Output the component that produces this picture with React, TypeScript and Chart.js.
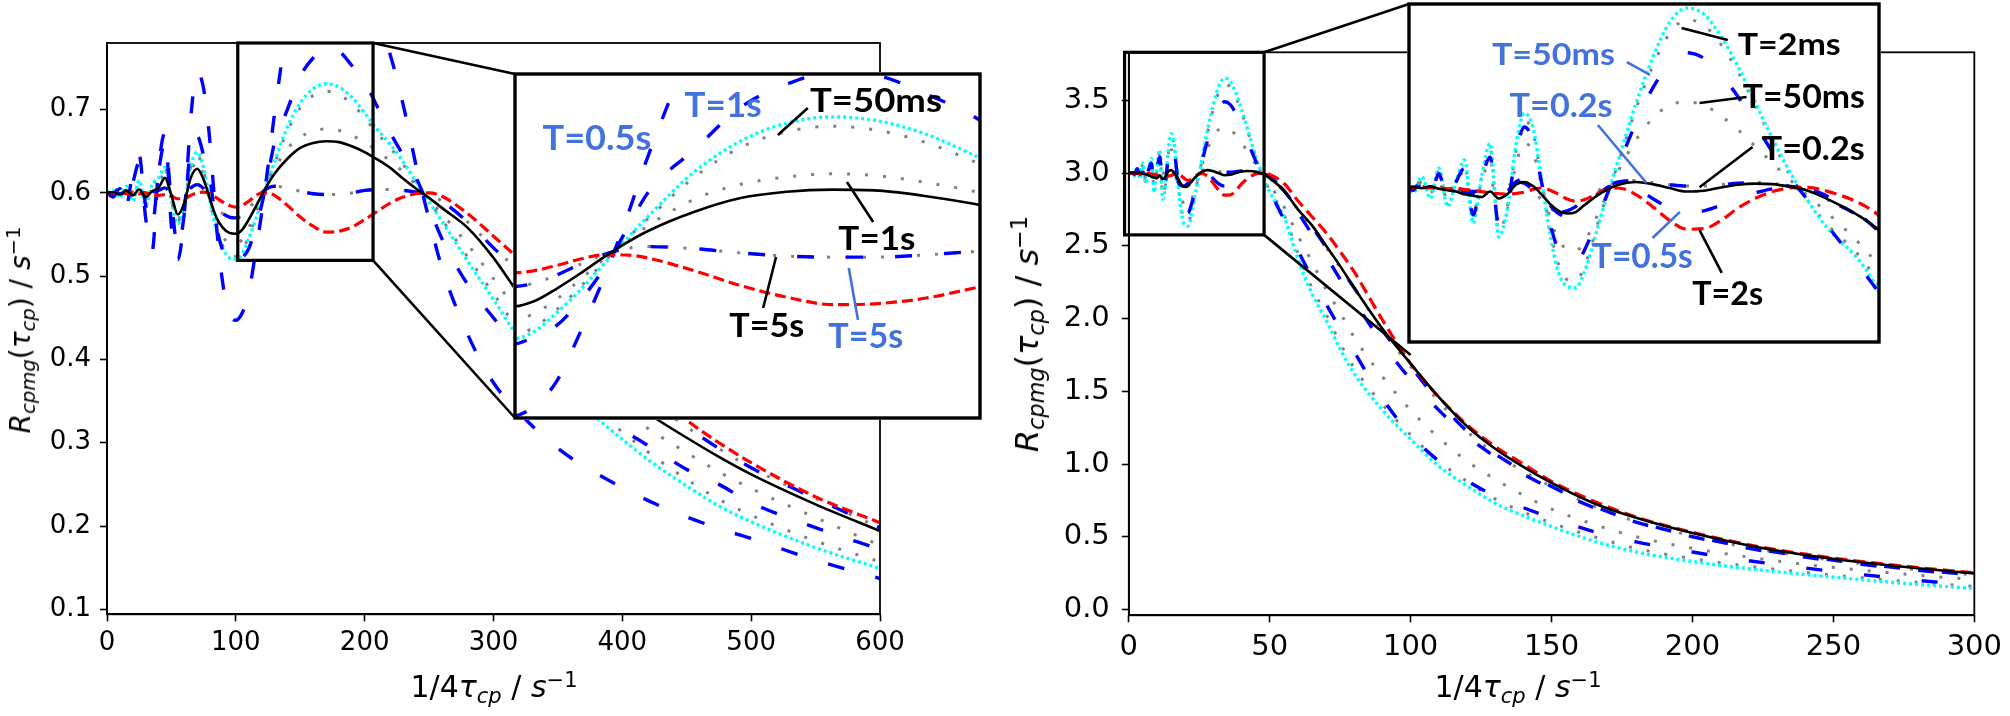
import React, { useEffect, useRef } from 'react';
import { Chart, registerables } from 'chart.js';
Chart.register(...registerables);

// ---------------- LEFT PANEL DATA ----------------
const X_L = [0,5,10,15,20,25,30,35,40,45,50,55,60,65,70,75,80,85,90,95,100,105,110,115,120,125,130,
  140,150,160,170,180,190,200,210,220,230,240,250,260,
  280,300,320,340,360,380,400, 425,450,475,500, 550,600];

const L_RED = [0.600,0.600,0.601,0.599,0.601,0.599,0.600,0.598,0.597,0.598,0.596,0.593,0.593,0.597,0.600,0.601,0.599,0.594,0.589,0.585,0.583,0.585,0.590,0.596,0.600,0.600,0.597,
  0.585,0.571,0.560,0.553,0.554,0.559,0.568,0.578,0.588,0.595,0.599,0.600,0.596,
  0.575,0.548,0.520,0.487,0.455,0.425,0.396, 0.360,0.327,0.300,0.276, 0.235,0.204];
const L_BLACK = [0.600,0.601,0.598,0.603,0.597,0.604,0.595,0.602,0.606,0.618,0.597,0.574,0.588,0.618,0.629,0.616,0.592,0.570,0.558,0.552,0.551,0.556,0.568,0.582,0.597,0.611,0.623,
  0.641,0.654,0.660,0.662,0.661,0.656,0.649,0.640,0.630,0.617,0.605,0.594,0.582,
  0.558,0.522,0.478,0.440,0.408,0.380,0.357, 0.330,0.306,0.283,0.262, 0.226,0.194];
const L_CYAN = [0.600,0.603,0.594,0.608,0.590,0.615,0.585,0.610,0.618,0.631,0.590,0.563,0.585,0.632,0.649,0.630,0.590,0.555,0.533,0.522,0.520,0.527,0.545,0.566,0.590,0.614,0.637,
  0.679,0.708,0.725,0.731,0.727,0.715,0.696,0.676,0.658,0.637,0.613,0.589,0.566,
  0.518,0.472,0.425,0.390,0.357,0.330,0.304, 0.274,0.248,0.224,0.205, 0.174,0.149];
const L_GREY_HI = [0.600,0.602,0.595,0.607,0.591,0.613,0.587,0.609,0.617,0.628,0.591,0.566,0.587,0.630,0.645,0.627,0.589,0.557,0.536,0.526,0.524,0.531,0.548,0.569,0.592,0.614,0.635,
  0.674,0.702,0.717,0.722,0.718,0.707,0.690,0.671,0.654,0.634,0.612,0.590,0.568,
  0.523,0.479,0.434,0.399,0.366,0.339,0.313, 0.283,0.256,0.232,0.213, 0.182,0.157];
const L_GREY_MID = [0.600,0.601,0.597,0.604,0.594,0.607,0.590,0.605,0.613,0.623,0.593,0.569,0.588,0.624,0.638,0.622,0.590,0.563,0.547,0.540,0.539,0.544,0.558,0.576,0.595,0.612,0.628,
  0.653,0.667,0.674,0.677,0.675,0.669,0.661,0.650,0.638,0.625,0.609,0.592,0.575,
  0.538,0.497,0.456,0.421,0.390,0.363,0.339, 0.312,0.288,0.265,0.245, 0.210,0.177];
const L_BLUE_5S = [0.600,0.600,0.599,0.601,0.598,0.602,0.597,0.601,0.603,0.606,0.598,0.591,0.595,0.606,0.610,0.605,0.593,0.582,0.575,0.571,0.570,0.573,0.581,0.591,0.600,0.606,0.608,
  0.606,0.602,0.599,0.598,0.598,0.600,0.603,0.604,0.604,0.603,0.601,0.598,0.590,
  0.565,0.534,0.506,0.474,0.442,0.411,0.381, 0.348,0.319,0.293,0.270, 0.233,0.198];
const L_BLUE_1S = [0.600,0.598,0.605,0.592,0.612,0.637,0.585,0.560,0.625,0.660,0.590,0.535,0.575,0.655,0.668,0.645,0.615,0.560,0.530,0.518,0.515,0.522,0.533,0.556,0.585,0.622,0.660,
  0.700,0.740,0.762,0.773,0.770,0.753,0.733,0.703,0.672,0.645,0.618,0.582,0.545,
  0.490,0.450,0.413,0.385,0.362,0.340,0.316, 0.292,0.268,0.250,0.228, 0.198,0.172];
const L_BLUE_05S = [0.600,0.595,0.610,0.585,0.625,0.645,0.570,0.530,0.630,0.672,0.560,0.520,0.575,0.690,0.745,0.725,0.660,0.560,0.490,0.455,0.447,0.456,0.480,0.525,0.575,0.632,0.695,
  0.800,0.865,0.895,0.905,0.900,0.880,0.850,0.810,0.765,0.705,0.632,0.568,0.510,
  0.430,0.372,0.336,0.306,0.282,0.263,0.246, 0.227,0.211,0.197,0.185, 0.159,0.137];

const X_TICKS_L = [0,100,200,300,400,500,600];
const Y_TICKS_L = [0.1,0.2,0.3,0.4,0.5,0.6,0.7];

// ---------------- RIGHT PANEL DATA ----------------
const X_R = [0,1,2,3,4,5,6,7,8,9,10,11,12,13,14,15,16,17,18,19,20,21,22,
  24,26,28,30,32,34,36,38,40,42,44,46,48,50,
  55,60,65,70,75,80, 90,100,110,120,130,140,150, 165,180,200,220,240,260,280,300];

const R_CYAN = [3.0,3.0,2.98,3.04,2.96,3.07,2.93,3.02,3.1,2.87,3.04,3.16,2.82,2.92,3.15,3.27,3.22,3.03,2.83,2.69,2.64,2.635,2.69,
  2.9,3.1,3.3,3.47,3.6,3.652,3.63,3.55,3.44,3.31,3.18,3.06,2.96,2.87,
  2.7,2.41,2.17,1.99,1.79,1.62, 1.37,1.17,0.985,0.85,0.73,0.645,0.57, 0.47,0.395,0.33,0.28,0.24,0.205,0.172,0.145];
const R_GREY_HI = [3.0,3.0,2.985,3.035,2.965,3.06,2.94,3.02,3.085,2.88,3.035,3.14,2.84,2.93,3.13,3.24,3.2,3.03,2.85,2.72,2.665,2.66,2.71,
  2.91,3.09,3.28,3.44,3.56,3.61,3.59,3.52,3.42,3.3,3.17,3.05,2.96,2.88,
  2.72,2.45,2.21,2.03,1.83,1.66, 1.41,1.2,1.02,0.88,0.76,0.67,0.595, 0.5,0.42,0.35,0.297,0.255,0.218,0.187,0.158];
const R_GREY_MID = [3.0,3.0,2.99,3.02,2.98,3.04,2.955,3.01,3.06,2.91,3.02,3.1,2.88,2.92,3.08,3.16,3.13,3.01,2.89,2.81,2.775,2.77,2.8,
  2.93,3.06,3.17,3.25,3.3,3.31,3.3,3.26,3.21,3.15,3.09,3.03,2.975,2.92,
  2.77,2.57,2.39,2.2,2.04,1.87, 1.6,1.37,1.18,1.02,0.895,0.785,0.69, 0.585,0.5,0.42,0.36,0.31,0.27,0.235,0.205];
const R_BLUE_50MS = [3.0,3.0,2.99,3.03,2.97,3.05,2.95,3.02,3.07,2.9,3.03,3.11,2.86,2.93,3.12,3.22,3.17,3.02,2.87,2.77,2.73,2.725,2.77,
  2.92,3.08,3.23,3.36,3.45,3.49,3.47,3.41,3.33,3.23,3.13,3.04,2.96,2.88,
  2.68,2.47,2.28,2.1,1.93,1.77, 1.45,1.2,1.02,0.885,0.78,0.7,0.63, 0.535,0.465,0.395,0.335,0.285,0.24,0.2,0.167];
const R_BLACK = [3.0,3.0,3.002,2.997,3.004,2.995,2.99,2.985,2.975,2.97,2.965,2.985,2.96,2.975,3.01,3.02,3.005,2.975,2.94,2.915,2.905,2.91,2.935,
  2.98,3.01,3.02,3.012,2.998,2.985,2.988,3.0,3.01,3.014,3.012,3.003,2.99,2.965,
  2.88,2.75,2.64,2.5,2.36,2.21, 1.93,1.69,1.46,1.26,1.105,0.98,0.87, 0.73,0.63,0.525,0.44,0.375,0.325,0.283,0.248];
const R_RED = [3.0,3.0,3.0,3.0,2.998,3.0,2.995,2.998,2.992,2.99,2.985,2.98,2.978,2.975,2.978,2.983,2.993,2.998,2.99,2.975,2.958,2.95,2.955,
  2.985,2.998,2.975,2.93,2.88,2.848,2.85,2.88,2.925,2.96,2.985,2.998,3.0,2.99,
  2.93,2.81,2.7,2.59,2.46,2.32, 1.99,1.69,1.46,1.27,1.12,1.0,0.88, 0.745,0.635,0.53,0.445,0.38,0.33,0.288,0.252];
const R_BLUE_02S = [3.0,3.0,3.0,3.005,2.995,3.003,2.992,2.99,2.985,2.985,2.99,3.01,3.0,3.005,3.02,3.015,2.99,2.955,2.925,2.91,2.915,2.93,2.955,
  2.995,3.02,3.025,3.018,3.01,3.005,3.005,3.01,3.015,3.018,3.015,3.005,2.99,2.962,
  2.88,2.75,2.63,2.49,2.35,2.21, 1.92,1.67,1.43,1.225,1.07,0.95,0.845, 0.71,0.605,0.505,0.425,0.365,0.315,0.272,0.238];
const R_BLUE_05S = [3.0,3.0,2.998,3.004,2.995,3.005,2.99,3.0,2.985,2.975,2.98,3.0,2.965,2.985,3.02,3.03,3.01,2.975,2.935,2.905,2.895,2.9,2.93,
  2.985,3.015,3.0,2.96,2.925,2.91,2.915,2.935,2.96,2.98,2.995,3.0,2.995,2.975,
  2.88,2.73,2.58,2.43,2.27,2.12, 1.83,1.58,1.37,1.19,1.05,0.93,0.83, 0.7,0.6,0.5,0.42,0.36,0.31,0.27,0.235];

const X_TICKS_R = [0,50,100,150,200,250,300];
const Y_TICKS_R = [0,0.5,1.0,1.5,2.0,2.5,3.0,3.5];

// ---------------- ANNOTATIONS (inset data coordinates) ----------------
const BLUE_TXT = '#4472dd';
const L_LABELS = [
  { t: 'T=0.5s', x: 118.8, y: 0.6996, c: BLUE_TXT, s: 35, w: 109 },
  { t: 'T=1s', x: 146.2, y: 0.7308, c: BLUE_TXT, s: 35, w: 77 },
  { t: 'T=50ms', x: 179.4, y: 0.7356, c: '#000', s: 32, w: 132 },
  { t: 'T=1s', x: 179.6, y: 0.6048, c: '#000', s: 32, w: 77 },
  { t: 'T=5s', x: 155.7, y: 0.5223, c: '#000', s: 32, w: 75 },
  { t: 'T=5s', x: 177.2, y: 0.5119, c: BLUE_TXT, s: 35, w: 75 },
];
const L_LEADERS = [
  { x0: 164.6, y0: 0.7394, x1: 158.1, y1: 0.7138, c: '#000' },
  { x0: 178.8, y0: 0.6313, x1: 173.1, y1: 0.6692, c: '#000' },
  { x0: 154.9, y0: 0.5498, x1: 157.7, y1: 0.5981, c: '#000' },
  { x0: 175.5, y0: 0.5384, x1: 173.5, y1: 0.5877, c: BLUE_TXT },
];
const R_LABELS = [
  { t: 'T=50ms', x: 18.4, y: 3.445, c: BLUE_TXT, s: 31, w: 123 },
  { t: 'T=0.2s', x: 19.3, y: 3.256, c: BLUE_TXT, s: 32, w: 103 },
  { t: 'T=0.5s', x: 28.8, y: 2.707, c: BLUE_TXT, s: 35, w: 101 },
  { t: 'T=2ms', x: 46.0, y: 3.482, c: '#000', s: 31, w: 103 },
  { t: 'T=50ms', x: 47.7, y: 3.289, c: '#000', s: 32, w: 122 },
  { t: 'T=0.2s', x: 48.8, y: 3.1, c: '#000', s: 32, w: 103 },
  { t: 'T=2s', x: 38.8, y: 2.572, c: '#000', s: 32, w: 71 },
];
const R_LEADERS = [
  { x0: 27.0, y0: 3.456, x1: 29.7, y1: 3.409, c: BLUE_TXT },
  { x0: 23.6, y0: 3.227, x1: 29.3, y1: 3.016, c: BLUE_TXT },
  { x0: 30.0, y0: 2.816, x1: 33.2, y1: 2.911, c: BLUE_TXT },
  { x0: 33.4, y0: 3.58, x1: 38.8, y1: 3.536, c: '#000' },
  { x0: 35.5, y0: 3.307, x1: 41.0, y1: 3.329, c: '#000' },
  { x0: 35.5, y0: 3.001, x1: 41.7, y1: 3.147, c: '#000' },
  { x0: 35.5, y0: 2.845, x1: 38.1, y1: 2.689, c: '#000' },
];

// ---------------- STYLES ----------------
type St = { color: string; width: number; dash: number[] };
const ST = {
  redL: { color: '#ff0000', width: 3.2, dash: [11, 5] },
  redR: { color: '#ff0000', width: 3.2, dash: [12, 6] },
  black: { color: '#000000', width: 2.6, dash: [] },
  grey: { color: '#808080', width: 3, dash: [3, 15] },
  cyan: { color: '#00ffff', width: 3.4, dash: [3, 3] },
  blueL: { color: '#0000ff', width: 3.4, dash: [17, 32] },
  blueR: { color: '#0000ff', width: 3.4, dash: [16, 42] },
};

function series(xs: number[], ys: number[], st: St) {
  return {
    data: ys.map((y, i) => ({ x: xs[i], y })),
    borderColor: st.color,
    borderWidth: st.width,
    borderDash: st.dash,
    borderCapStyle: 'butt',
    borderJoinStyle: 'round',
    pointRadius: 0,
    pointHoverRadius: 0,
    fill: false,
    tension: 0,
    cubicInterpolationMode: 'monotone',
  };
}

function leftSets() {
  return [
    series(X_L, L_BLACK, ST.black),
    series(X_L, L_RED, ST.redL),
    series(X_L, L_BLUE_5S, ST.blueL),
    series(X_L, L_BLUE_1S, ST.blueL),
    series(X_L, L_BLUE_05S, ST.blueL),
    series(X_L, L_CYAN, ST.cyan),
    series(X_L, L_GREY_HI, ST.grey),
    series(X_L, L_GREY_MID, ST.grey),
    series(X_L, L_BLUE_5S, ST.grey),
  ];
}
function rightSets() {
  return [
    series(X_R, R_BLACK, ST.black),
    series(X_R, R_RED, ST.redR),
    series(X_R, R_BLUE_02S, ST.blueR),
    series(X_R, R_BLUE_05S, ST.blueR),
    series(X_R, R_BLUE_50MS, ST.blueR),
    series(X_R, R_CYAN, ST.cyan),
    series(X_R, R_GREY_HI, ST.grey),
    series(X_R, R_GREY_MID, ST.grey),
    series(X_R, R_BLUE_02S, ST.grey),
  ];
}

// ---------------- LAYOUT ----------------
const MAIN_L = { left: 0, top: 0, w: 1000, h: 716, area: { l: 107, t: 43, r: 880, b: 614.3 } };
const MAIN_R = { left: 1000, top: 0, w: 1010, h: 716, area: { l: 128.8, t: 52.3, r: 977.8, b: 615.3 } };
const INSET_L = { left: 513, top: 72, w: 469, h: 348, pad: 2 };
const INSET_R = { left: 1407, top: 2, w: 474, h: 342, pad: 2 };

function mainConfig(p: any) {
  const frame = {
    id: 'frame',
    afterDraw(chart: any) {
      const { ctx, chartArea: a, scales } = chart;
      ctx.save();
      ctx.strokeStyle = '#000';
      ctx.lineWidth = 1.8;
      ctx.strokeRect(a.left, a.top, a.right - a.left, a.bottom - a.top);
      const bx0 = scales.x.getPixelForValue(p.box.x0);
      const bx1 = scales.x.getPixelForValue(p.box.x1);
      const by0 = scales.y.getPixelForValue(p.box.y0);
      const by1 = scales.y.getPixelForValue(p.box.y1);
      ctx.lineWidth = 3.2;
      ctx.strokeRect(bx0, by1, bx1 - bx0, by0 - by1);
      ctx.restore();
    },
  };
  return {
    type: 'line',
    data: { datasets: p.sets },
    plugins: [frame],
    options: {
      animation: false,
      responsive: false,
      maintainAspectRatio: false,
      devicePixelRatio: 1,
      events: [],
      parsing: true,
      layout: { padding: { left: 0, top: p.area.t, right: p.w - p.area.r, bottom: 0 } },
      plugins: { legend: { display: false }, tooltip: { enabled: false }, title: { display: false } },
      scales: {
        x: {
          type: 'linear', min: p.xMin, max: p.xMax,
          afterBuildTicks: (ax: any) => { ax.ticks = p.xTicks.map((v: number) => ({ value: v })); },
          afterFit: (ax: any) => { ax.height = p.h - p.area.b; },
          grid: { display: true, drawOnChartArea: false, drawTicks: true, tickLength: 7, tickWidth: 1.6, tickColor: '#000', color: '#000' },
          border: { display: true, color: '#000', width: 1.8 },
          ticks: { color: '#000', font: { family: 'DejaVu Sans', size: p.font }, padding: p.xPad, maxRotation: 0, autoSkip: false, callback: (v: any) => String(v) },
        },
        y: {
          type: 'linear', min: p.yMin, max: p.yMax,
          afterBuildTicks: (ax: any) => { ax.ticks = p.yTicks.map((v: number) => ({ value: v })); },
          afterFit: (ax: any) => { ax.width = p.area.l; },
          grid: { display: true, drawOnChartArea: false, drawTicks: true, tickLength: 7, tickWidth: 1.6, tickColor: '#000', color: '#000' },
          border: { display: true, color: '#000', width: 1.8 },
          ticks: { color: '#000', font: { family: 'DejaVu Sans', size: p.font }, padding: p.yPad, autoSkip: false, callback: (v: any) => Number(v).toFixed(1) },
        },
      },
    },
  };
}

function insetConfig(p: any) {
  const deco = {
    id: 'deco',
    beforeDraw(chart: any) {
      const ctx = chart.ctx;
      ctx.save();
      ctx.fillStyle = '#fff';
      ctx.fillRect(0, 0, chart.width, chart.height);
      ctx.restore();
    },
    afterDraw(chart: any) {
      const { ctx, chartArea: a, scales } = chart;
      const xs = scales.x, ys = scales.y;
      ctx.save();
      ctx.strokeStyle = '#000';
      ctx.lineWidth = 3.4;
      ctx.strokeRect(a.left, a.top, a.right - a.left, a.bottom - a.top);
      ctx.lineWidth = 2.6;
      for (const l of p.leaders) {
        ctx.strokeStyle = l.c;
        ctx.beginPath();
        ctx.moveTo(xs.getPixelForValue(l.x0), ys.getPixelForValue(l.y0));
        ctx.lineTo(xs.getPixelForValue(l.x1), ys.getPixelForValue(l.y1));
        ctx.stroke();
      }
      for (const lb of p.labels) {
        ctx.font = `bold ${lb.s}px Lato, 'Open Sans', sans-serif`;
        const m = ctx.measureText(lb.t).width || 1;
        const sx = lb.w / m;
        ctx.save();
        ctx.translate(xs.getPixelForValue(lb.x), ys.getPixelForValue(lb.y));
        ctx.scale(sx, 1);
        ctx.textAlign = 'center';
        ctx.textBaseline = 'alphabetic';
        ctx.fillStyle = lb.c;
        ctx.fillText(lb.t, 0, 0);
        ctx.restore();
      }
      ctx.restore();
    },
  };
  return {
    type: 'line',
    data: { datasets: p.sets },
    plugins: [deco],
    options: {
      animation: false,
      responsive: false,
      maintainAspectRatio: false,
      devicePixelRatio: 1,
      events: [],
      layout: { padding: p.pad },
      plugins: { legend: { display: false }, tooltip: { enabled: false } },
      scales: {
        x: { type: 'linear', display: false, min: p.xMin, max: p.xMax },
        y: { type: 'linear', display: false, min: p.yMin, max: p.yMax },
      },
    },
  };
}

const Sub = ({ children }: any) => (
  <span style={{ fontSize: '0.7em', position: 'relative', top: '0.28em', fontStyle: 'italic' }}>{children}</span>
);
const Sup = ({ children }: any) => (
  <span style={{ fontSize: '0.7em', position: 'relative', top: '-0.5em' }}>{children}</span>
);
const XTitle = () => (<>1/4<i>τ</i><Sub>cp</Sub> / <i>s</i><Sup>−1</Sup></>);
const YTitle = () => (<><i>R</i><Sub>cpmg</Sub>(<i>τ</i><Sub>cp</Sub>) / <i>s</i><Sup>−1</Sup></>);

function abs(l: number, t: number, w: number, h: number, z: number): React.CSSProperties {
  return { position: 'absolute', left: l, top: t, width: w, height: h, zIndex: z };
}

export default function App() {
  const cL = useRef<HTMLCanvasElement>(null);
  const cR = useRef<HTMLCanvasElement>(null);
  const iL = useRef<HTMLCanvasElement>(null);
  const iR = useRef<HTMLCanvasElement>(null);
  const ov = useRef<HTMLCanvasElement>(null);

  useEffect(() => {
    const mainL = new Chart(cL.current as any, mainConfig({
      sets: leftSets(), w: MAIN_L.w, h: MAIN_L.h, area: MAIN_L.area,
      xMin: 0, xMax: 600, yMin: 0.094, yMax: 0.78, xTicks: X_TICKS_L, yTicks: Y_TICKS_L,
      font: 26, xPad: 6, yPad: 9, box: { x0: 101.5, x1: 206.5, y0: 0.519, y1: 0.78 },
    }) as any);
    const mainR = new Chart(cR.current as any, mainConfig({
      sets: rightSets(), w: MAIN_R.w, h: MAIN_R.h, area: MAIN_R.area,
      xMin: 0, xMax: 300, yMin: -0.04, yMax: 3.83, xTicks: X_TICKS_R, yTicks: Y_TICKS_R,
      font: 29, xPad: 8, yPad: 12, box: { x0: -1.5, x1: 48, y0: 2.575, y1: 3.83 },
    }) as any);
    const insL = new Chart(iL.current as any, insetConfig({
      sets: leftSets(), pad: INSET_L.pad, xMin: 101, xMax: 202, yMin: 0.4455, yMax: 0.7716,
      labels: L_LABELS, leaders: L_LEADERS,
    }) as any);
    const insR = new Chart(iR.current as any, insetConfig({
      sets: rightSets(), pad: INSET_R.pad, xMin: 1.5, xMax: 56.5, yMin: 2.438, yMax: 3.667,
      labels: R_LABELS, leaders: R_LEADERS,
    }) as any);

    // connector lines between zoom boxes and insets
    const ctx = ov.current!.getContext('2d')!;
    ctx.clearRect(0, 0, 2010, 716);
    ctx.strokeStyle = '#000';
    ctx.lineWidth = 2.6;
    const line = (x0: number, y0: number, x1: number, y1: number) => {
      ctx.beginPath(); ctx.moveTo(x0, y0); ctx.lineTo(x1, y1); ctx.stroke();
    };
    const sLx = (mainL as any).scales.x, sLy = (mainL as any).scales.y;
    const aIL = (insL as any).chartArea;
    const bxL = MAIN_L.left + sLx.getPixelForValue(206.5);
    line(bxL, MAIN_L.top + sLy.getPixelForValue(0.78), INSET_L.left + aIL.left, INSET_L.top + aIL.top);
    line(bxL, MAIN_L.top + sLy.getPixelForValue(0.519), INSET_L.left + aIL.left, INSET_L.top + aIL.bottom);
    const sRx = (mainR as any).scales.x, sRy = (mainR as any).scales.y;
    const aIR = (insR as any).chartArea;
    const bxR = MAIN_R.left + sRx.getPixelForValue(48);
    line(bxR, MAIN_R.top + sRy.getPixelForValue(3.83), INSET_R.left + aIR.left, INSET_R.top + aIR.top);
    line(bxR, MAIN_R.top + sRy.getPixelForValue(2.575), MAIN_R.left + sRx.getPixelForValue(100), MAIN_R.top + sRy.getPixelForValue(1.75));

    return () => { mainL.destroy(); mainR.destroy(); insL.destroy(); insR.destroy(); };
  }, []);

  const titleBase: React.CSSProperties = {
    position: 'absolute', fontFamily: "'DejaVu Sans', sans-serif", color: '#000', whiteSpace: 'nowrap', lineHeight: 1, zIndex: 10,
  };

  return (
    <div style={{ position: 'fixed', left: 0, top: 0, width: 2010, height: 716, background: '#fff', overflow: 'hidden' }}>
      <canvas ref={cL} width={MAIN_L.w} height={MAIN_L.h} style={abs(MAIN_L.left, MAIN_L.top, MAIN_L.w, MAIN_L.h, 1)} />
      <canvas ref={cR} width={MAIN_R.w} height={MAIN_R.h} style={abs(MAIN_R.left, MAIN_R.top, MAIN_R.w, MAIN_R.h, 1)} />
      <canvas ref={iL} width={INSET_L.w} height={INSET_L.h} style={abs(INSET_L.left, INSET_L.top, INSET_L.w, INSET_L.h, 3)} />
      <canvas ref={iR} width={INSET_R.w} height={INSET_R.h} style={abs(INSET_R.left, INSET_R.top, INSET_R.w, INSET_R.h, 3)} />
      <canvas ref={ov} width={2010} height={716} style={{ ...abs(0, 0, 2010, 716, 5), pointerEvents: 'none' }} />
      <div style={{ ...titleBase, fontSize: 30, left: 494, top: 672, transform: 'translateX(-50%)' }}><XTitle /></div>
      <div style={{ ...titleBase, fontSize: 30, left: 1518, top: 672, transform: 'translateX(-50%)' }}><XTitle /></div>
      <div style={{ ...titleBase, fontSize: 28, left: 21, top: 330, transform: 'translate(-50%, -50%) rotate(-90deg)' }}><YTitle /></div>
      <div style={{ ...titleBase, fontSize: 32, left: 1027, top: 334, transform: 'translate(-50%, -50%) rotate(-90deg)' }}><YTitle /></div>
    </div>
  );
}
